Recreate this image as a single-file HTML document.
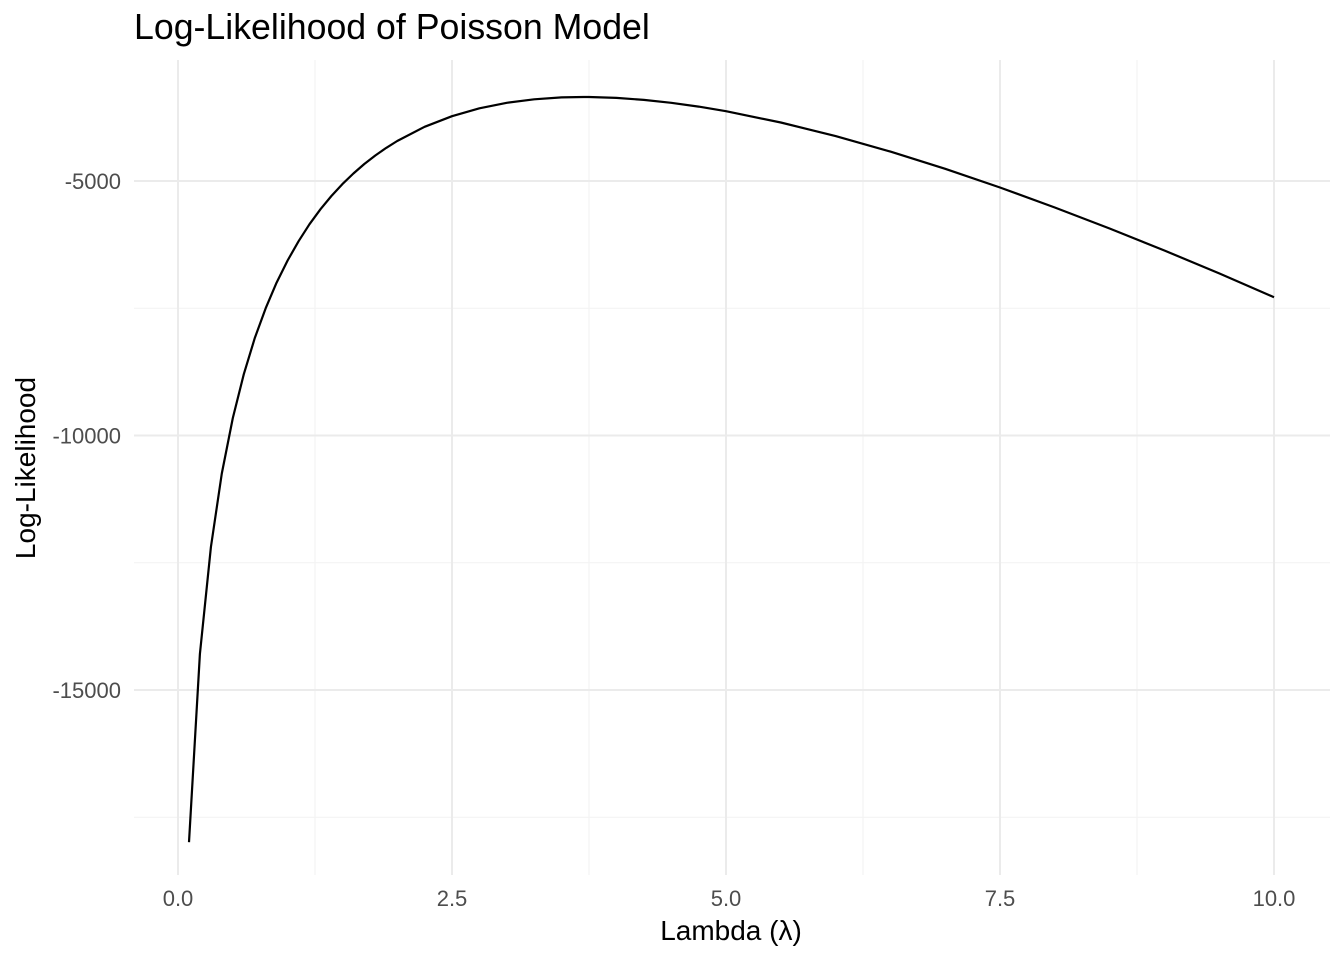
<!DOCTYPE html>
<html><head><meta charset="utf-8"><style>
html,body{margin:0;padding:0;background:#fff;}
svg{display:block;font-family:"Liberation Sans",sans-serif;}
</style></head><body>
<svg id="chart" width="1344" height="960">
<text x="134" y="39" font-size="35.7" fill="#000">Log-Likelihood of Poisson Model</text>
<g id="grid"></g>
<g id="ticks"></g>
<path id="line" fill="none" stroke="#000" stroke-width="2.2" stroke-linejoin="round"></path>
<text x="731" y="940" font-size="28" text-anchor="middle" fill="#000">Lambda (λ)</text>
<text transform="translate(35,468) rotate(-90)" font-size="28" text-anchor="middle" fill="#000">Log-Likelihood</text>
</svg>
<script>
const lambdas = [0.1,0.2,0.3,0.4,0.5,0.6,0.7,0.8,0.9,1.0,1.1,1.2,1.3,1.4,1.5,1.6,1.7,1.8,1.9,2.0,2.25,2.5,2.75,3.0,3.25,3.5,3.7,3.75,4.0,4.25,4.5,4.75,5.0,5.5,6.0,6.5,7.0,7.5,8.0,8.5,9.0,9.5,10.0];
const logLik = [-17990,-14293,-12193,-10746,-9658,-8796,-8091,-7499,-6996,-6561,-6182,-5849,-5555,-5294,-5061,-4853,-4666,-4499,-4349,-4214,-3935,-3726,-3572,-3464,-3394,-3358,-3350,-3350,-3367,-3406,-3464,-3539,-3629,-3850,-4117,-4423,-4761,-5128,-5520,-5933,-6366,-6816,-7282];
const xTicks = [0,2.5,5,7.5,10];
const xTickLabels = ["0.0","2.5","5.0","7.5","10.0"];
const yTicks = [-15000,-10000,-5000];
const yTickLabels = ["-15000","-10000","-5000"];
const xMinor = [1.25,3.75,6.25,8.75];
const yMinor = [-17500,-12500,-7500];

const X = v => 178 + v * 109.6;
const Y = v => 181 + (-5000 - v) / 5000 * 254.5;
const NS = "http://www.w3.org/2000/svg";
const gridG = document.getElementById('grid');
const ticksG = document.getElementById('ticks');
function ln(x1,y1,x2,y2,w,c,parent){
  const l=document.createElementNS(NS,'line');
  l.setAttribute('x1',x1);l.setAttribute('y1',y1);l.setAttribute('x2',x2);l.setAttribute('y2',y2);
  l.setAttribute('stroke',c);l.setAttribute('stroke-width',w);
  parent.appendChild(l);return l;
}
const panelTop=60,panelBot=875,panelLeft=134,panelRight=1330;
xMinor.forEach(v=>{const l=ln(X(v),panelTop,X(v),panelBot,1,'#f2f2f2',gridG);

});
yMinor.forEach(v=>{const l=ln(panelLeft,Y(v),panelRight,Y(v),1,'#f2f2f2',gridG);

});
xTicks.forEach((v,i)=>{const l=ln(X(v),panelTop,X(v),panelBot,2,'#ebebeb',gridG);


const t=document.createElementNS(NS,'text');
t.setAttribute('x',X(v));t.setAttribute('y',906);t.setAttribute('font-size','22');
t.setAttribute('text-anchor','middle');t.setAttribute('fill','#4d4d4d');
t.textContent=xTickLabels[i];


ticksG.appendChild(t);});
yTicks.forEach((v,i)=>{const l=ln(panelLeft,Y(v),panelRight,Y(v),2,'#ebebeb',gridG);


const t=document.createElementNS(NS,'text');
t.setAttribute('x',121);t.setAttribute('y',Y(v)+8);t.setAttribute('font-size','22');
t.setAttribute('text-anchor','end');t.setAttribute('fill','#4d4d4d');
t.textContent=yTickLabels[i];


ticksG.appendChild(t);});
document.getElementById('line').setAttribute('d',
  lambdas.map((v,i)=>(i?'L':'M')+X(v).toFixed(1)+','+Y(logLik[i]).toFixed(1)).join(''));
</script>
</body></html>
